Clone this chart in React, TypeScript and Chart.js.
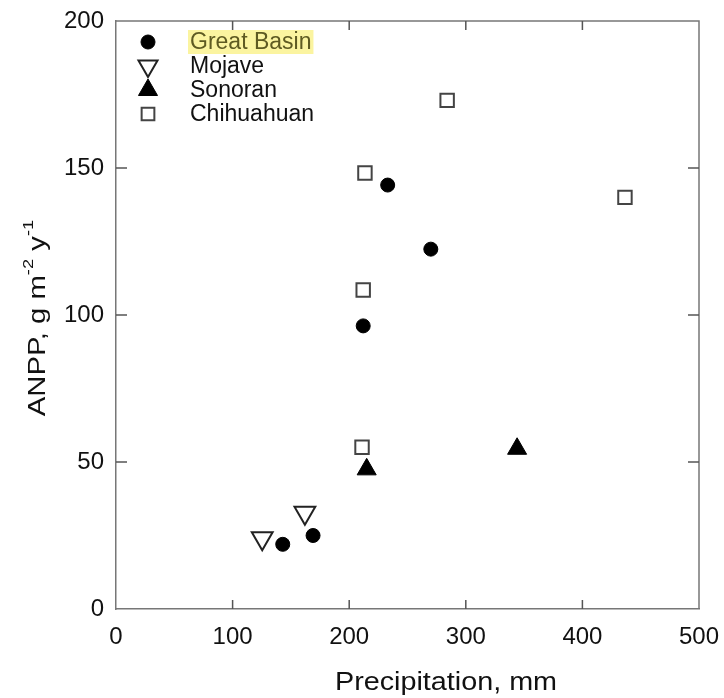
import React, { useEffect, useRef } from 'react';
import { Chart, registerables } from 'chart.js';
import { drawPoint } from 'chart.js/helpers';

Chart.register(...registerables);

// ---- data ----
const xTicks = [0, 100, 200, 300, 400, 500];
const yTicks = [0, 50, 100, 150, 200];

const seriesNames = ['Great Basin', 'Mojave', 'Sonoran', 'Chihuahuan'];

const greatBasinX = [143, 169, 212, 233, 270];
const greatBasinY = [22, 25, 96.3, 144.2, 122.4];

const mojaveX = [125.4, 162];
const mojaveY = [24.1, 32.7];

const sonoranX = [215, 344];
const sonoranY = [47.5, 54.5];

const chihuahuanX = [211, 212, 213.5, 284, 436.5];
const chihuahuanY = [55, 108.5, 148.3, 173, 140];

const xTitle = 'Precipitation, mm';

const FONT = "'Liberation Sans', Arial, Helvetica, sans-serif";

const toPts = (xs: number[], ys: number[]) => xs.map((x, i) => ({ x, y: ys[i] }));

const styles = [
  { pointStyle: 'circle', radius: 7, rotation: 0, bg: '#000', border: '#000', bw: 1, lr: 7 },
  { pointStyle: 'triangle', radius: 12, rotation: 180, bg: '#fff', border: '#222', bw: 2, lr: 11 },
  { pointStyle: 'triangle', radius: 11, rotation: 0, bg: '#000', border: '#000', bw: 1, lr: 11 },
  { pointStyle: 'rect', radius: 9.5, rotation: 0, bg: '#fff', border: '#444', bw: 2, lr: 9 },
];

const framePlugin = {
  id: 'frame',
  afterDraw(chart: any) {
    const { ctx, chartArea: a, scales } = chart;
    const xs = scales.x;
    const ys = scales.y;
    ctx.save();
    ctx.strokeStyle = '#777';
    ctx.lineWidth = 1.5;
    // top and right frame
    ctx.beginPath();
    ctx.moveTo(a.left, a.top);
    ctx.lineTo(a.right, a.top);
    ctx.lineTo(a.right, a.bottom);
    ctx.stroke();
    // inward ticks
    ctx.strokeStyle = '#555';
    ctx.lineWidth = 1.5;
    ctx.beginPath();
    for (const v of xTicks.slice(1, -1)) {
      const px = xs.getPixelForValue(v);
      ctx.moveTo(px, a.bottom);
      ctx.lineTo(px, a.bottom - 9);
      ctx.moveTo(px, a.top);
      ctx.lineTo(px, a.top + 9);
    }
    for (const v of yTicks.slice(1, -1)) {
      const py = ys.getPixelForValue(v);
      ctx.moveTo(a.left, py);
      ctx.lineTo(a.left + 11, py);
      ctx.moveTo(a.right, py);
      ctx.lineTo(a.right - 11, py);
    }
    ctx.stroke();

    // x title (slightly stretched horizontally like the scan)
    ctx.fillStyle = '#111';
    ctx.font = `25px ${FONT}`;
    ctx.textAlign = 'center';
    ctx.textBaseline = 'middle';
    ctx.save();
    ctx.translate(446, 683);
    ctx.scale(1.15, 1);
    ctx.fillText(xTitle, 0, 0);
    ctx.restore();

    // y title with superscripts
    ctx.save();
    ctx.translate(38, 318);
    ctx.rotate(-Math.PI / 2);
    ctx.scale(1.22, 1);
    const parts: [string, boolean][] = [
      ['ANPP, g m', false],
      ['-2', true],
      [' y', false],
      ['-1', true],
    ];
    const big = `24px ${FONT}`;
    const small = `15px ${FONT}`;
    let total = 0;
    for (const [t, sup] of parts) {
      ctx.font = sup ? small : big;
      total += ctx.measureText(t).width;
    }
    let cx = -total / 2;
    ctx.textAlign = 'left';
    for (const [t, sup] of parts) {
      ctx.font = sup ? small : big;
      ctx.fillText(t, cx, sup ? -9 : 0);
      cx += ctx.measureText(t).width;
    }
    ctx.restore();

    // legend
    const rows = [42, 66, 90, 114];
    ctx.textAlign = 'left';
    ctx.textBaseline = 'middle';
    ctx.font = `23px ${FONT}`;
    seriesNames.forEach((name, i) => {
      const s = styles[i];
      ctx.fillStyle = s.bg;
      ctx.strokeStyle = s.border;
      ctx.lineWidth = s.bw;
      drawPoint(ctx, { pointStyle: s.pointStyle, radius: s.lr, rotation: s.rotation, borderWidth: s.bw } as any, 148, rows[i]);
      const tx = 190;
      if (i === 0) {
        const w = ctx.measureText(name).width;
        ctx.fillStyle = '#fbf4a0';
        ctx.fillRect(tx - 2, rows[i] - 12, w + 4, 24);
        ctx.fillStyle = '#5e5a22';
      } else {
        ctx.fillStyle = '#111';
      }
      ctx.fillText(name, tx, rows[i] + 1);
    });
    ctx.restore();
  },
};

export default function App() {
  const ref = useRef<HTMLCanvasElement | null>(null);
  useEffect(() => {
    if (!ref.current) return;
    const allX = [greatBasinX, mojaveX, sonoranX, chihuahuanX];
    const allY = [greatBasinY, mojaveY, sonoranY, chihuahuanY];
    const datasets = seriesNames.map((name, i) => ({
      label: name,
      data: toPts(allX[i], allY[i]),
      pointStyle: styles[i].pointStyle,
      pointRadius: styles[i].radius,
      pointRotation: styles[i].rotation,
      pointBackgroundColor: styles[i].bg,
      pointBorderColor: styles[i].border,
      pointBorderWidth: styles[i].bw,
      backgroundColor: styles[i].bg,
      borderColor: styles[i].border,
      showLine: false,
    }));
    const tickFont = { family: FONT, size: 24 };
    const chart = new Chart(ref.current, {
      type: 'scatter',
      data: { datasets } as any,
      options: {
        responsive: false,
        animation: false,
        layout: { padding: { top: 21, right: 25, left: 0, bottom: 0 } },
        plugins: { legend: { display: false }, tooltip: { enabled: false } },
        scales: {
          x: {
            type: 'linear',
            min: 0,
            max: 500,
            afterBuildTicks: (s: any) => { s.ticks = xTicks.map((v) => ({ value: v })); },
            afterFit: (s: any) => { s.height = 89; s.paddingLeft = 0; s.paddingRight = 0; },
            grid: { display: false, drawTicks: false },
            border: { display: true, color: '#777', width: 1.5 },
            ticks: { padding: 14, font: tickFont, color: '#111', maxRotation: 0 },
          },
          y: {
            type: 'linear',
            min: 0,
            max: 200,
            afterBuildTicks: (s: any) => { s.ticks = yTicks.map((v) => ({ value: v })); },
            afterFit: (s: any) => { s.width = 116; s.paddingTop = 0; s.paddingBottom = 0; },
            grid: { display: false, drawTicks: false },
            border: { display: true, color: '#777', width: 1.5 },
            ticks: { padding: 12, font: tickFont, color: '#111' },
          },
        },
      } as any,
      plugins: [framePlugin],
    });
    return () => chart.destroy();
  }, []);
  return (
    <div style={{ position: 'fixed', left: 0, top: 0, width: 724, height: 698, background: '#fff' }}>
      <canvas ref={ref} width={724} height={698} style={{ width: 724, height: 698, display: 'block' }} />
    </div>
  );
}
